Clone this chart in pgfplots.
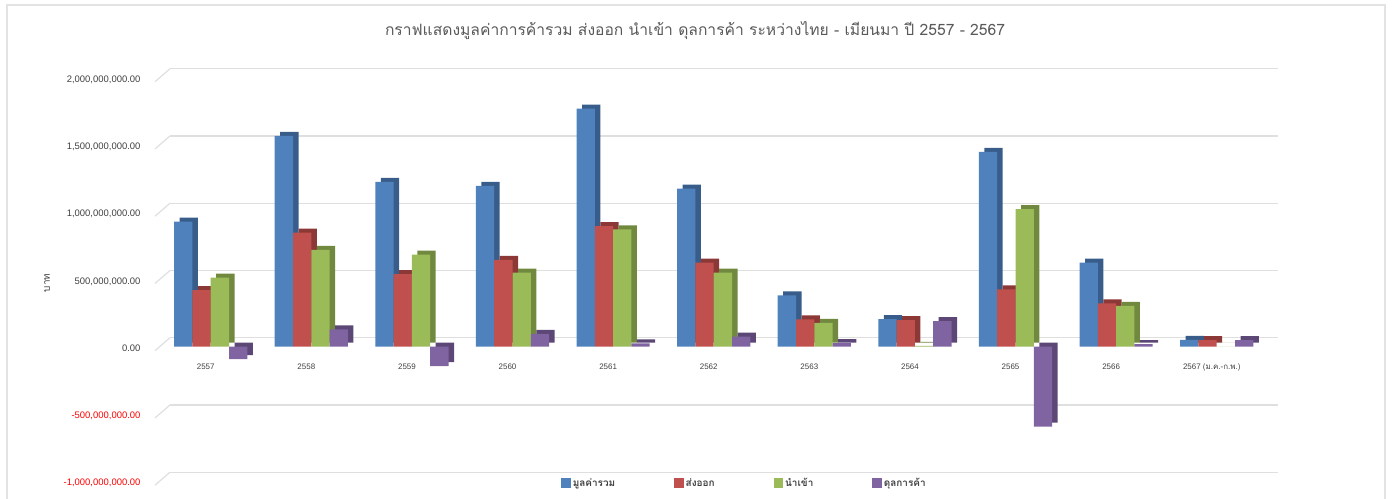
\documentclass[border=0pt]{standalone}
\usepackage{pgfplots}
\usepackage{pgfplotstable}
\pgfplotsset{compat=1.18}
\usepackage{fontspec}
\setmainfont{Liberation Sans}
\newfontfamily\thai[Script=Thai]{Loma}
\definecolor{cblue}{HTML}{4F81BD}\definecolor{cblueD}{HTML}{385D8A}
\definecolor{cred}{HTML}{C0504D}\definecolor{credD}{HTML}{8C3836}
\definecolor{cgreen}{HTML}{9BBB59}\definecolor{cgreenD}{HTML}{71893F}
\definecolor{cpurp}{HTML}{8064A2}\definecolor{cpurpD}{HTML}{5C4776}
\definecolor{txt}{HTML}{404040}
\definecolor{ttl}{HTML}{595959}
\pgfplotstableread{
x total export import balance
0 0.929 0.420 0.513 -0.093
1 1.567 0.848 0.719 0.129
2 1.225 0.540 0.685 -0.145
3 1.195 0.645 0.550 0.095
4 1.770 0.897 0.873 0.024
5 1.175 0.625 0.550 0.075
6 0.382 0.204 0.178 0.026
7 0.205 0.198 0.007 0.191
8 1.449 0.427 1.022 -0.595
9 0.626 0.323 0.303 0.020
10 0.050 0.049 0.001 0.048
}\data
\begin{document}
\begin{tikzpicture}
\useasboundingbox (0,0) rectangle (1392bp,499bp);
\draw[color=gray!22, line width=1.5bp] (7bp,-5bp) |- (1385bp,494bp) -- (1385bp,-5bp);
\node[font=\thai\fontsize{15.7}{19}\selectfont, text=ttl] at (695bp,468bp) {กราฟแสดงมูลค่าการค้ารวม ส่งออก นำเข้า ดุลการค้า ระหว่างไทย - เมียนมา ปี 2557 - 2567};
\node[rotate=90, font=\thai\fontsize{10}{11}\selectfont, text=txt] at (47bp,216bp) {บาท};
\begin{axis}[
  at={(155bp,17.8bp)}, anchor=south west, scale only axis,
  width=1108bp, height=403.5bp,
  xmin=-0.554, xmax=10.46, ymin=-1, ymax=2, clip=false,
  axis line style={draw=none}, major tick length=0pt,
  ymajorgrids, major grid style={draw=gray!25, line width=1.2bp, xshift=15bp, yshift=9bp},
  ytick={-1,-0.5,0,0.5,1,1.5,2},
  yticklabels={{\color{red}-1,000,000,000.00},{\color{red}-500,000,000.00},0.00,{500,000,000.00},{1,000,000,000.00},{1,500,000,000.00},{2,000,000,000.00}},
  yticklabel style={font=\fontsize{9.5}{11}\selectfont, text=txt, anchor=east, xshift=-11bp, yshift=-2bp},
  xtick={0,...,10},
  xticklabels={2557,2558,2559,2560,2561,2562,2563,2564,2565,2566,{2567 {\thai(ม.ค.-ก.พ.)}}},
  xticklabel style={font=\fontsize{8}{9}\selectfont, text=txt, anchor=north, xshift=-5bp, yshift=121bp},
  legend columns=4,
  legend style={draw=none, fill=none, at={(0.532,-0.005)}, anchor=center,
    font=\thai\bfseries\fontsize{10}{11}\selectfont, text=txt,
    /tikz/every even column/.append style={column sep=57bp}},
  legend image code/.code={\fill[#1] (0bp,-4.5bp) rectangle (9.5bp,5bp);},
]
\addplot[ybar, bar width=18.3bp, bar shift=-27.45bp, fill=cblueD, draw=none, xshift=5.5bp, yshift=4bp, forget plot] table[x=x,y=total]{\data};
\addplot[ybar, bar width=18.3bp, bar shift=-9.15bp, fill=credD, draw=none, xshift=5.5bp, yshift=4bp, forget plot] table[x=x,y=export]{\data};
\addplot[ybar, bar width=18.3bp, bar shift=9.15bp, fill=cgreenD, draw=none, xshift=5.5bp, yshift=4bp, forget plot] table[x=x,y=import]{\data};
\addplot[ybar, bar width=18.3bp, bar shift=27.45bp, fill=cpurpD, draw=none, xshift=5.5bp, yshift=4bp, forget plot] table[x=x,y=balance]{\data};
\addplot[ybar, bar width=18.3bp, bar shift=-27.45bp, fill=cblue, draw=none] table[x=x,y=total]{\data};
\addlegendentry{มูลค่ารวม}
\addplot[ybar, bar width=18.3bp, bar shift=-9.15bp, fill=cred, draw=none] table[x=x,y=export]{\data};
\addlegendentry{ส่งออก}
\addplot[ybar, bar width=18.3bp, bar shift=9.15bp, fill=cgreen, draw=none] table[x=x,y=import]{\data};
\addlegendentry{นำเข้า}
\addplot[ybar, bar width=18.3bp, bar shift=27.45bp, fill=cpurp, draw=none] table[x=x,y=balance]{\data};
\addlegendentry{ดุลการค้า}
\pgfplotsinvokeforeach{-1,-0.5,0,0.5,1,1.5,2}{
  \draw[gray!25, line width=1.2bp] ([xshift=0bp,yshift=-4bp]axis cs:-0.554,#1) -- ([xshift=15bp,yshift=9bp]axis cs:-0.554,#1);
}
\end{axis}
\end{tikzpicture}
\end{document}
